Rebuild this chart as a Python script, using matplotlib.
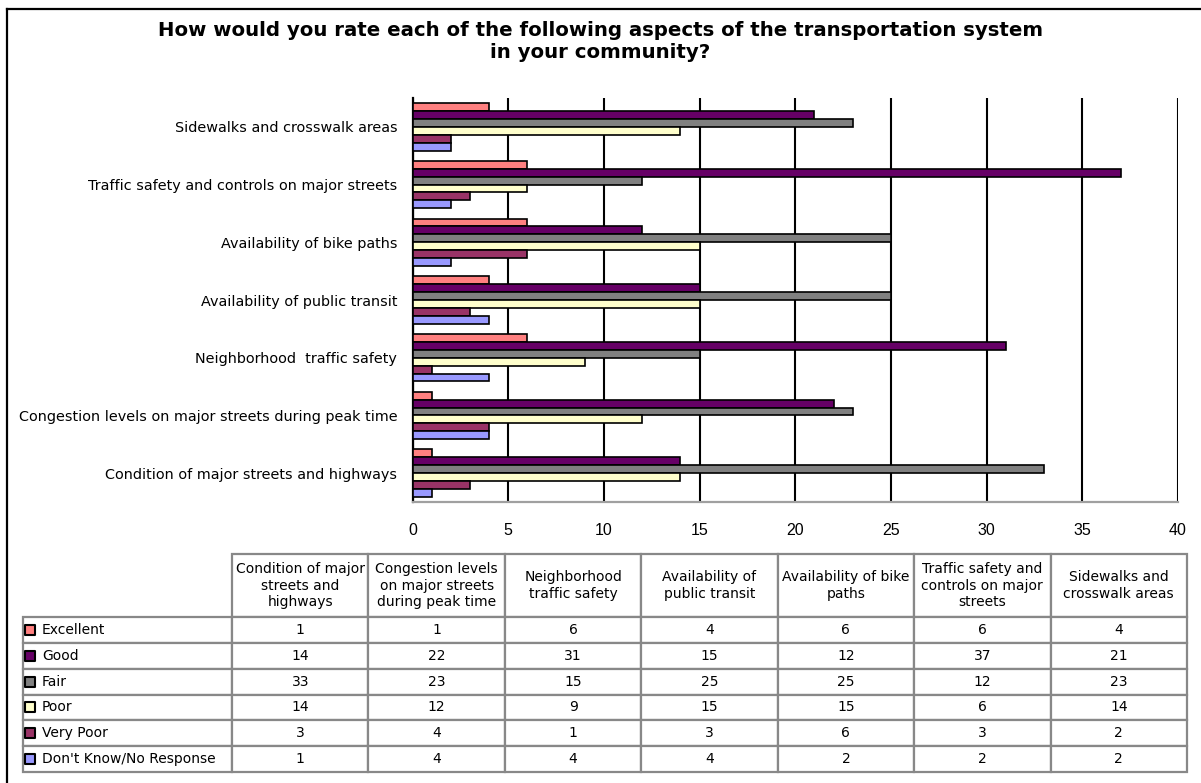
import matplotlib
matplotlib.use("Agg")
import matplotlib.pyplot as plt
from matplotlib.lines import Line2D
import numpy as np

plt.rcParams['font.family'] = ['DejaVu Sans']

# Survey data
categorias = [
    "Condition of major streets and highways",
    "Congestion levels on major streets during peak time",
    "Neighborhood  traffic safety",
    "Availability of public transit",
    "Availability of bike paths",
    "Traffic safety and controls on major streets",
    "Sidewalks and crosswalk areas",
]
cabeceras = [
    "Condition of major\nstreets and\nhighways",
    "Congestion levels\non major streets\nduring peak time",
    "Neighborhood\ntraffic safety",
    "Availability of\npublic transit",
    "Availability of bike\npaths",
    "Traffic safety and\ncontrols on major\nstreets",
    "Sidewalks and\ncrosswalk areas",
]
series = ["Excellent", "Good", "Fair", "Poor", "Very Poor", "Don't Know/No Response"]
excellent = [1, 1, 6, 4, 6, 6, 4]
good = [14, 22, 31, 15, 12, 37, 21]
fair = [33, 23, 15, 25, 25, 12, 23]
poor = [14, 12, 9, 15, 15, 6, 14]
very_poor = [3, 4, 1, 3, 6, 3, 2]
dont_know = [1, 4, 4, 4, 2, 2, 2]
valores = [excellent, good, fair, poor, very_poor, dont_know]
colores = ['#FF8080', '#660066', '#808080', '#FFFFCC', '#993366', '#9999FF']
xticks = [0, 5, 10, 15, 20, 25, 30, 35, 40]

W, H = 1201, 783
fig = plt.figure(figsize=(W / 100, H / 100), dpi=100)

# Grafico de barras horizontales
ax = fig.add_axes([412.5 / W, 1 - 502 / H, (1178 - 412.5) / W, (502 - 98) / H])
n = len(series)
alto = 0.137
y = np.arange(len(categorias))
for i, (nombre, vals, col) in enumerate(zip(series, valores, colores)):
    offset = (n - 1) / 2 * alto - i * alto
    ax.barh(y + offset, vals, height=alto, color=col, edgecolor='black',
            linewidth=1.2, zorder=3, label=nombre)

ax.set_xlim(0, 40)
ax.set_ylim(-0.5, len(categorias) - 0.5)
ax.set_xticks(xticks)
ax.set_xticklabels([str(t) for t in xticks],
                   family=['Liberation Sans Narrow', 'Liberation Sans'], fontsize=11.5)
ax.set_yticks(y)
ax.set_yticklabels(categorias, fontsize=10.4)
ax.tick_params(axis='x', length=0, pad=15)
ax.tick_params(axis='y', length=0, pad=11)
ax.grid(axis='x', color='black', linewidth=1.5, zorder=0)
ax.spines['top'].set_visible(False)
ax.spines['right'].set_visible(False)
ax.spines['left'].set_color('black')
ax.spines['left'].set_linewidth(1.6)
ax.spines['bottom'].set_color('#a0a0a0')
ax.spines['bottom'].set_linewidth(1.6)

fig.text(0.5, 1 - 30 / H, "How would you rate each of the following aspects of the transportation system",
         ha='center', va='center', fontsize=14.2, fontweight='bold')
fig.text(0.5, 1 - 52 / H, "in your community?",
         ha='center', va='center', fontsize=14.2, fontweight='bold')

# Tabla de datos
tax = fig.add_axes([0, 0, 1, 1])
tax.axis('off')
tax.set_xlim(0, 1)
tax.set_ylim(0, 1)

celdas = [[""] + cabeceras]
for nombre, vals in zip(series, valores):
    celdas.append([nombre] + [str(v) for v in vals])

x0, x1 = 23, 1187
ancho_etiqueta = 232 - x0
ancho_col = (x1 - 232) / len(categorias)
anchos = [ancho_etiqueta / W] + [ancho_col / W] * len(categorias)
y_top, y_bot = 554, 772
tabla = tax.table(cellText=celdas, colWidths=anchos, cellLoc='center',
                  bbox=[x0 / W, 1 - y_bot / H, (x1 - x0) / W, (y_bot - y_top) / H])
tabla.auto_set_font_size(False)
tabla.set_fontsize(10)
alto_cab = 63
alto_fila = (y_bot - y_top - alto_cab) / len(series)
for (r, c), cell in tabla.get_celld().items():
    cell.set_edgecolor('#888888')
    cell.set_linewidth(1.6)
    cell.set_height((alto_cab if r == 0 else alto_fila) / H)
    if r == 0 and c == 0:
        cell.set_edgecolor('none')
    if c == 0 and r > 0:
        cell.get_text().set_ha('left')
        cell._loc = 'left'
        cell.PAD = 0.09

# Marcadores de color de la leyenda
for i, col in enumerate(colores):
    yc = y_top + alto_cab + alto_fila * (i + 0.5)
    tax.scatter([30 / W], [1 - yc / H], marker='s', s=48, color=col,
                edgecolor='black', linewidth=1.5, zorder=5)

# Borde exterior
fig.add_artist(Line2D([7 / W, 7 / W], [0, 1 - 8.5 / H], color='black', linewidth=1.6))
fig.add_artist(Line2D([7 / W, 1], [1 - 8.5 / H, 1 - 8.5 / H], color='black', linewidth=1.6))

fig.savefig('out.png', dpi=100)
